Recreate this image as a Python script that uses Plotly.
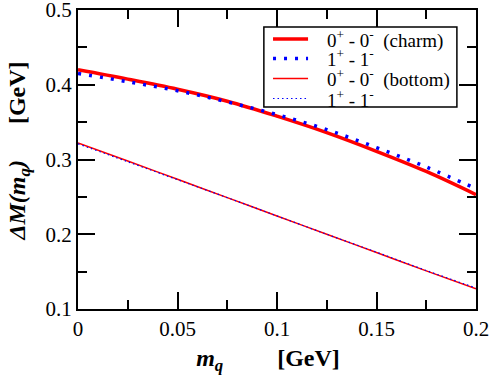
import plotly.graph_objects as go

mq = [0.0, 0.025, 0.05, 0.075, 0.1, 0.125, 0.15, 0.175, 0.2]
charm_0 = [0.420, 0.4075, 0.394, 0.378, 0.358, 0.336, 0.311, 0.284, 0.253]
charm_1 = [0.415, 0.404, 0.392, 0.377, 0.360, 0.340, 0.316, 0.290, 0.261]
bottom_0 = [0.322, 0.298, 0.2735, 0.249, 0.2245, 0.200, 0.1755, 0.151, 0.127]
bottom_1 = [0.321, 0.297, 0.273, 0.249, 0.2245, 0.200, 0.176, 0.1515, 0.128]

names = [
    "0<sup>+</sup> - 0<sup>-</sup>  (charm)",
    "1<sup>+</sup> - 1<sup>-</sup>",
    "0<sup>+</sup> - 0<sup>-</sup>  (bottom)",
    "1<sup>+</sup> - 1<sup>-</sup>",
]

FONT = "Times, serif"
NB = "&nbsp;"

styles = [
    dict(color="#ff0000", width=3.5),
    dict(color="#0000ff", width=3.5, dash="3px,8px"),
    dict(color="#ff0000", width=1.5),
    dict(color="#0000ff", width=1.2, dash="1.5px,3px"),
]
series = [charm_0, charm_1, bottom_0, bottom_1]

fig = go.Figure()
for nm, ys, st in zip(names, series, styles):
    fig.add_trace(go.Scatter(x=mq, y=ys, mode="lines", name=nm, showlegend=False,
                             line=dict(shape="spline", **st)))

# custom legend box (paper coordinates)
lx0, lx1, ly0, ly1 = 0.467, 0.952, 0.676, 0.943
fig.add_shape(type="rect", xref="paper", yref="paper", x0=lx0, x1=lx1, y0=ly0, y1=ly1,
              line=dict(color="black", width=1.5), fillcolor="white", layer="above")
row_y = [0.903, 0.838, 0.771, 0.704]
for nm, st, ry in zip(names, styles, row_y):
    fig.add_shape(type="line", xref="paper", yref="paper", x0=0.490, x1=0.578, y0=ry, y1=ry,
                  line=st, layer="above")
    fig.add_annotation(xref="paper", yref="paper", x=0.621, y=ry, xanchor="left", yanchor="middle",
                       text=nm.replace("  ", NB * 2), showarrow=False,
                       font=dict(family=FONT, size=19, color="black"))

axis_common = dict(
    showline=True, linecolor="black", linewidth=2, mirror="allticks",
    ticks="inside", ticklen=17, tickwidth=2, tickcolor="black",
    showgrid=False, zeroline=False, automargin=False, ticklabeloverflow="allow",
    tickfont=dict(family=FONT, size=21, color="black"),
)

fig.update_xaxes(range=[0, 0.2], tickvals=[0, 0.05, 0.1, 0.15, 0.2],
                 ticktext=["0", "0.05", "0.1", "0.15", "0.2"],
                 minor=dict(tickvals=[0.025, 0.075, 0.125, 0.175], ticklen=9, tickwidth=2,
                            ticks="inside", tickcolor="black"),
                 title=dict(text="<b><i>m<sub>q</sub></i>" + NB * 9 + "[GeV]" + NB * 3 + "</b>",
                            font=dict(family=FONT, size=24, color="black"), standoff=9),
                 **axis_common)
fig.update_yaxes(range=[0.1, 0.5], tickvals=[0.1, 0.2, 0.3, 0.4, 0.5],
                 ticktext=["0.1", "0.2", "0.3", "0.4", "0.5"],
                 minor=dict(tickvals=[0.15, 0.25, 0.35, 0.45], ticklen=9, tickwidth=2,
                            ticks="inside", tickcolor="black"),
                 title=dict(text="<b>" + NB * 3 + "<i>ΔM(m<sub>q</sub>)</i>" + NB * 6 + "[GeV]</b>",
                            font=dict(family=FONT, size=24, color="black"), standoff=13),
                 **axis_common)

fig.update_layout(
    width=493, height=375,
    margin=dict(l=78, r=17, t=10, b=66),
    plot_bgcolor="white", paper_bgcolor="white",
    showlegend=False,
)

fig.write_html("out.html", config={"displayModeBar": False},
               post_script="document.body.style.margin='0';")
